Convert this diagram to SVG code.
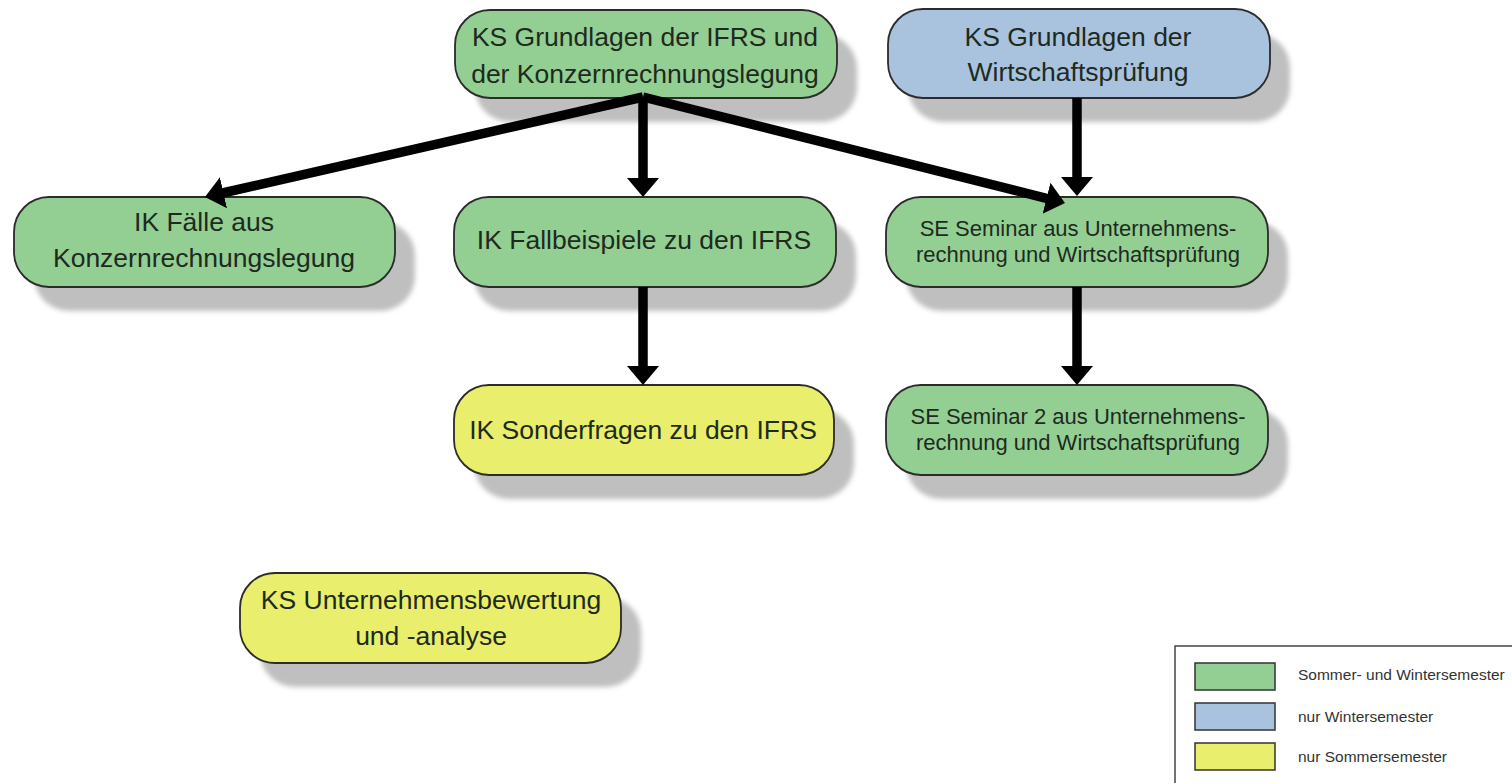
<svg xmlns="http://www.w3.org/2000/svg" width="1512" height="783" viewBox="0 0 1512 783">
<style>
.node{stroke:#2b2b2b;stroke-width:1.8}
.g{fill:#93cf93}
.b{fill:#a9c3df}
.y{fill:#e9ee6c}
.sh{fill:#bfbfbf;filter:url(#blur)}
.t{font-family:"Liberation Sans",Arial,sans-serif;font-size:26.5px;fill:#1e2a1e;text-anchor:middle}
.ts{font-family:"Liberation Sans",Arial,sans-serif;font-size:22px;fill:#1e2a1e;text-anchor:middle}
.lt{font-family:"Liberation Sans",Arial,sans-serif;font-size:15.5px;fill:#333}
.arr{stroke:#000;stroke-width:9.5;fill:none;marker-end:url(#ah)}
.sw{stroke:#333;stroke-width:1.5}
</style>
<defs>
<filter id="blur" x="-10%" y="-20%" width="120%" height="140%"><feGaussianBlur stdDeviation="2.5"/></filter>
<marker id="ah" markerUnits="userSpaceOnUse" viewBox="0 -17 20 34" refX="1" refY="0" markerWidth="20" markerHeight="34" orient="auto"><path d="M0,-16 L19,0 L0,16 z" fill="#000"/></marker>
</defs>
<rect width="1512" height="783" fill="#fff"/>
<g id="shadows">
<rect class="sh" x="475" y="34" width="382" height="88" rx="35"/>
<rect class="sh" x="908" y="33" width="382" height="89" rx="35"/>
<rect class="sh" x="34" y="221" width="381" height="90" rx="35"/>
<rect class="sh" x="474" y="221" width="382" height="90" rx="35"/>
<rect class="sh" x="906" y="221" width="382" height="90" rx="35"/>
<rect class="sh" x="474" y="409" width="380" height="90" rx="35"/>
<rect class="sh" x="906" y="409" width="382" height="90" rx="35"/>
<rect class="sh" x="260" y="597" width="381" height="90" rx="35"/>
</g>
<g id="node-ks-ifrs">
<rect class="node g" x="455" y="10" width="382" height="88" rx="35"/>
<text class="t" x="645" y="46">KS Grundlagen der IFRS und</text>
<text class="t" x="645" y="83">der Konzernrechnungslegung</text>
</g>
<g id="node-ks-wp">
<rect class="node b" x="888" y="9" width="382" height="89" rx="35"/>
<text class="t" x="1078" y="46">KS Grundlagen der</text>
<text class="t" x="1078" y="81">Wirtschaftsprüfung</text>
</g>
<g id="node-ik-faelle">
<rect class="node g" x="14" y="197" width="381" height="90" rx="35"/>
<text class="t" x="204" y="231">IK Fälle aus</text>
<text class="t" x="204" y="267">Konzernrechnungslegung</text>
</g>
<g id="node-ik-fallbeispiele">
<rect class="node g" x="454" y="197" width="382" height="90" rx="35"/>
<text class="t" x="644" y="249">IK Fallbeispiele zu den IFRS</text>
</g>
<g id="node-se-seminar">
<rect class="node g" x="886" y="197" width="382" height="90" rx="35"/>
<text class="ts" x="1078" y="236">SE Seminar aus Unternehmens-</text>
<text class="ts" x="1078" y="262">rechnung und Wirtschaftsprüfung</text>
</g>
<g id="node-ik-sonderfragen">
<rect class="node y" x="454" y="385" width="380" height="90" rx="35"/>
<text class="t" x="643" y="439">IK Sonderfragen zu den IFRS</text>
</g>
<g id="node-se-seminar2">
<rect class="node g" x="886" y="385" width="382" height="90" rx="35"/>
<text class="ts" x="1078" y="424">SE Seminar 2 aus Unternehmens-</text>
<text class="ts" x="1078" y="450">rechnung und Wirtschaftsprüfung</text>
</g>
<g id="node-ks-ub">
<rect class="node y" x="240" y="573" width="381" height="90" rx="35"/>
<text class="t" x="431" y="609">KS Unternehmensbewertung</text>
<text class="t" x="431" y="645">und -analyse</text>
</g>
<g id="connectors">
<line class="arr" x1="643" y1="97" x2="222.5" y2="193"/>
<line class="arr" x1="643" y1="97" x2="643" y2="179"/>
<line class="arr" x1="643" y1="97" x2="1047.5" y2="198.6"/>
<line class="arr" x1="1077" y1="98" x2="1077" y2="178"/>
<line class="arr" x1="643" y1="287" x2="643" y2="367"/>
<line class="arr" x1="1077" y1="287" x2="1077" y2="367"/>
</g>
<g id="legend">
<rect x="1175" y="646" width="400" height="200" fill="#fff" stroke="#444" stroke-width="1.5"/>
<rect class="sw g" x="1195" y="663" width="80" height="27"/>
<rect class="sw b" x="1195" y="703" width="80" height="27"/>
<rect class="sw y" x="1195" y="743" width="80" height="27"/>
<text class="lt" x="1298" y="680">Sommer- und Wintersemester</text>
<text class="lt" x="1298" y="722">nur Wintersemester</text>
<text class="lt" x="1298" y="762">nur Sommersemester</text>
</g>
</svg>
